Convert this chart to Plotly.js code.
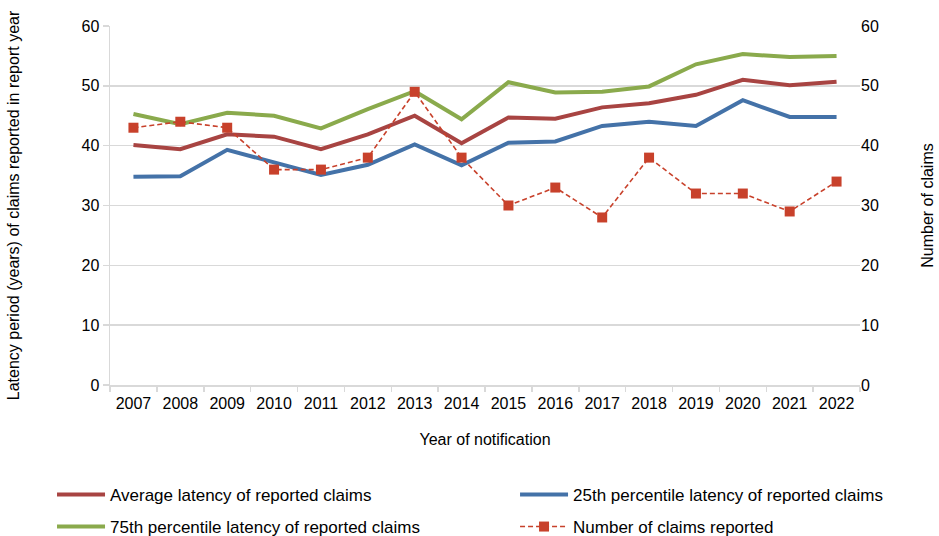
<!DOCTYPE html>
<html>
<head>
<meta charset="utf-8">
<script src="https://cdn.plot.ly/plotly-3.0.1.min.js"></script>
<style>html,body{margin:0;padding:0;background:#fff;}#chart{width:939px;height:536px;}</style>
</head>
<body>
<div id="chart"></div>
<script>
const years = ['2007','2008','2009','2010','2011','2012','2013','2014','2015','2016','2017','2018','2019','2020','2021','2022'];
const averageLatency = [40.1, 39.4, 41.9, 41.5, 39.4, 41.9, 45.0, 40.4, 44.7, 44.5, 46.4, 47.1, 48.5, 51.0, 50.1, 50.7];
const p25Latency = [34.8, 34.9, 39.3, 37.2, 35.1, 36.8, 40.2, 36.7, 40.5, 40.7, 43.3, 44.0, 43.3, 47.6, 44.8, 44.8];
const p75Latency = [45.3, 43.6, 45.5, 45.0, 42.9, 46.1, 49.1, 44.4, 50.6, 48.9, 49.0, 49.9, 53.6, 55.3, 54.8, 55.0];
const claimsReported = [43, 44, 43, 36, 36, 38, 49, 38, 30, 33, 28, 38, 32, 32, 29, 34];

const font = {family: 'Liberation Sans, Arial, sans-serif', size: 16, color: '#000'};
const legendFont = {family: 'Liberation Sans, Arial, sans-serif', size: 17, color: '#000'};

const traces = [
  {x: years, y: averageLatency, name: 'Average latency of reported claims', type: 'scatter', mode: 'lines',
   line: {color: '#A84442', width: 4}, legend: 'legend'},
  {x: years, y: p25Latency, name: '25th percentile latency of reported claims', type: 'scatter', mode: 'lines',
   line: {color: '#4472A8', width: 4}, legend: 'legend2'},
  {x: years, y: p75Latency, name: '75th percentile latency of reported claims', type: 'scatter', mode: 'lines',
   line: {color: '#8AAA4C', width: 4}, legend: 'legend3'},
  {x: years, y: claimsReported, name: 'Number of claims reported', type: 'scatter', mode: 'lines+markers', yaxis: 'y2',
   line: {color: '#C8412B', width: 1.6, dash: '5px,3px'}, marker: {symbol: 'square', size: 10, color: '#C8412B'}, legend: 'legend4'}
];

const legendBase = {
  orientation: 'h', xref: 'container', yref: 'container', xanchor: 'left', yanchor: 'middle',
  font: legendFont, itemwidth: 48, bgcolor: 'rgba(0,0,0,0)'
};
const col1 = 0.0554, col2 = 0.5485, row1 = 0.0765, row2 = 0.0168;

const layout = {
  width: 939, height: 536,
  margin: {l: 110, r: 79, t: 26, b: 151},
  paper_bgcolor: '#fff', plot_bgcolor: '#fff',
  font: font,
  showlegend: true,
  xaxis: {
    type: 'category', range: [-0.5, 15.5],
    showgrid: false, zeroline: false,
    showline: true, linecolor: '#d9d9d9', linewidth: 1.5,
    ticks: 'outside', tickson: 'boundaries', ticklen: 5, tickcolor: '#d9d9d9', tickwidth: 1.5,
    ticklabelstandoff: 3,
    tickfont: font,
    title: {text: 'Year of notification', font: font, standoff: 23}
  },
  yaxis: {
    range: [0, 60], dtick: 10,
    showgrid: true, gridcolor: '#d9d9d9', gridwidth: 1.5, zeroline: false,
    showline: true, linecolor: '#d9d9d9', linewidth: 1.5,
    ticks: 'outside', ticklen: 6, tickcolor: '#d9d9d9', tickwidth: 1.5,
    tickfont: font,
    title: {text: 'Latency period (years) of claims reported in report year', font: font, standoff: 58}
  },
  yaxis2: {
    range: [0, 60], dtick: 10, overlaying: 'y', side: 'right',
    showgrid: false, zeroline: false, showline: false,
    ticks: '', tickfont: font,
    title: {text: 'Number of claims', font: font, standoff: 43}
  },
  legend: Object.assign({}, legendBase, {x: col1, y: row1}),
  legend2: Object.assign({}, legendBase, {x: col2, y: row1}),
  legend3: Object.assign({}, legendBase, {x: col1, y: row2}),
  legend4: Object.assign({}, legendBase, {x: col2, y: row2})
};

Plotly.newPlot('chart', traces, layout, {displayModeBar: false, staticPlot: true});
</script>
</body>
</html>
